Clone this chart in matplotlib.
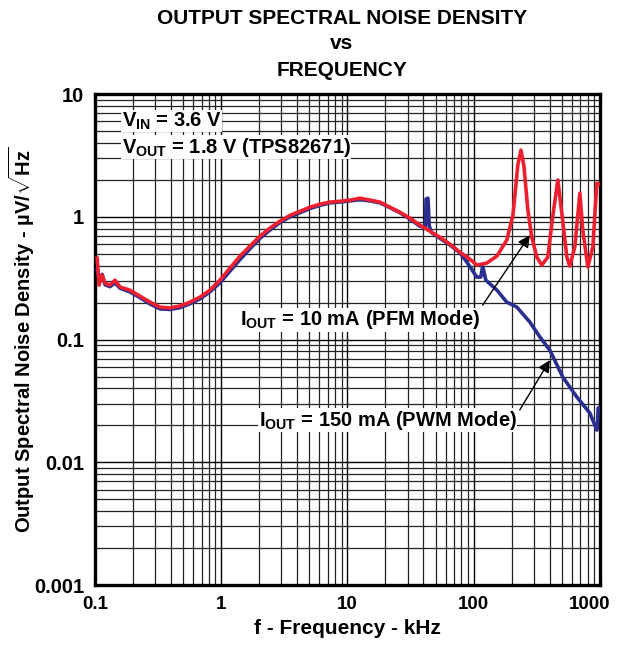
import matplotlib
matplotlib.use("Agg")
import matplotlib.pyplot as plt
from matplotlib.transforms import ScaledTranslation
from matplotlib.ticker import LogLocator, NullFormatter, FixedFormatter, FixedLocator

plt.rcParams['font.family'] = ['Liberation Sans', 'DejaVu Sans']
plt.rcParams['font.weight'] = 'bold'
plt.rcParams['mathtext.fontset'] = 'custom'
plt.rcParams['mathtext.rm'] = 'Liberation Sans:bold'
plt.rcParams['mathtext.bf'] = 'Liberation Sans:bold'
plt.rcParams['mathtext.it'] = 'Liberation Sans:bold'

# ---- data (kHz, uV/sqrt(Hz)) ----
freq_pfm = [0.104, 0.1076, 0.1136, 0.120, 0.1315, 0.144, 0.158, 0.189, 0.227, 0.273,
            0.327, 0.393, 0.471, 0.565, 0.679, 0.814, 0.977, 1.17, 1.41, 1.69,
            2.03, 2.43, 2.92, 3.51, 4.2, 5.05, 6.05, 7.27, 8.7, 10.5,
            12.6, 15.1, 18.1, 21.7, 26.1, 31.3, 37.5, 45, 54, 64.9,
            77.8, 93.3, 106, 127, 153, 183, 205, 224, 237, 250,
            269, 289, 317, 347, 387, 425, 465, 500, 548, 578,
            634, 695, 733, 804, 881, 947, 975, 1000]
noise_pfm = [0.461, 0.278, 0.335, 0.288, 0.278, 0.305, 0.268, 0.253, 0.226, 0.202,
             0.184, 0.181, 0.188, 0.202, 0.222, 0.253, 0.305, 0.382, 0.479, 0.578,
             0.697, 0.81, 0.923, 1.03, 1.11, 1.2, 1.27, 1.32, 1.34, 1.37,
             1.42, 1.37, 1.32, 1.2, 1.09, 0.977, 0.857, 0.765, 0.684, 0.6,
             0.516, 0.453, 0.405, 0.42, 0.479, 0.647, 1.03, 2.64, 3.5, 2.64,
             1.14, 0.684, 0.47, 0.405, 0.47, 1.03, 2.0, 1.07, 0.47, 0.397,
             0.57, 1.56, 0.78, 0.39, 0.57, 1.88, 1.85, 1.85]

freq_pwm = [0.104, 0.108, 0.114, 0.120, 0.1315, 0.144, 0.158, 0.189, 0.227, 0.273,
            0.327, 0.393, 0.471, 0.565, 0.679, 0.814, 0.977, 1.17, 1.41, 1.69,
            2.03, 2.43, 2.92, 3.51, 4.2, 5.05, 6.05, 7.27, 8.7, 10.5,
            12.6, 15.1, 18.1, 21.7, 26.1, 31.3, 37.5, 41.5, 42.0, 43.5,
            44.5, 46, 54, 64.9, 77.8, 88.4, 106, 114, 118, 125,
            153, 183, 220, 279, 335, 402, 509, 658, 834, 947,
            955, 970, 1000]
noise_pwm = [0.37, 0.31, 0.34, 0.28, 0.27, 0.29, 0.262, 0.245, 0.22, 0.195,
             0.178, 0.176, 0.182, 0.196, 0.215, 0.245, 0.29, 0.36, 0.45, 0.55,
             0.67, 0.78, 0.9, 1.0, 1.08, 1.17, 1.24, 1.3, 1.32, 1.35,
             1.38, 1.35, 1.3, 1.19, 1.08, 0.96, 0.84, 0.82, 1.40, 1.42,
             0.85, 0.75, 0.67, 0.59, 0.51, 0.428, 0.323, 0.323, 0.397, 0.305,
             0.253, 0.202, 0.184, 0.139, 0.105, 0.082, 0.0495, 0.034, 0.0252, 0.0183,
             0.0185, 0.0277, 0.0277]

xtick_vals = [0.1, 1, 10, 100, 1000]
xtick_labels = ['0.1', '1', '10', '100', '1000']
ytick_vals = [0.001, 0.01, 0.1, 1, 10]
ytick_labels = ['0.001', '0.01', '0.1', '1', '10']

fig = plt.figure(figsize=(6.19, 6.45), dpi=100)
ax = fig.add_axes([0.1535, 0.093, 0.8155, 0.761])

ax.plot(freq_pwm, noise_pwm, color='#2a2f8f', lw=2.6, zorder=3)
ax.plot(freq_pfm, noise_pfm, color='#ee2030', lw=2.6, zorder=4)

ax.set_xscale('log')
ax.set_yscale('log')
ax.set_xlim(0.1, 1000)
ax.set_ylim(0.001, 10)

ax.xaxis.set_major_locator(FixedLocator(xtick_vals))
ax.xaxis.set_major_formatter(FixedFormatter(xtick_labels))
ax.yaxis.set_major_locator(FixedLocator(ytick_vals))
ax.yaxis.set_major_formatter(FixedFormatter(ytick_labels))
ax.xaxis.set_minor_locator(LogLocator(base=10, subs=range(2, 10)))
ax.yaxis.set_minor_locator(LogLocator(base=10, subs=range(2, 10)))
ax.xaxis.set_minor_formatter(NullFormatter())
ax.yaxis.set_minor_formatter(NullFormatter())
ax.tick_params(which='both', length=0)
ax.tick_params(axis='x', pad=8, labelsize=13.5)
ax.tick_params(axis='y', pad=8, labelsize=14.5)
for lab in ax.get_xticklabels() + ax.get_yticklabels():
    lab.set_fontweight('bold')
# the last x label sits a bit left of its tick in the reference
last = ax.xaxis.get_major_ticks()[-1].label1
last.set_transform(last.get_transform() + ScaledTranslation(-7 / 72, 0, fig.dpi_scale_trans))

ax.grid(True, which='major', color='black', lw=1.0)
ax.grid(True, which='minor', color='#222222', lw=0.9)
ax.set_axisbelow(True)
for sp in ax.spines.values():
    sp.set_linewidth(2.4)

ax.set_xlabel('f - Frequency - kHz', fontsize=15, fontweight='bold', labelpad=4)
ax.set_ylabel(r'Output Spectral Noise Density - µV/$\sqrt{\mathrm{Hz}}$',
              fontsize=14.5, fontweight='bold')
ax.yaxis.label.set_va('center')
ax.yaxis.set_label_coords(-0.145, 0.5)

# title
for txt, y in [('OUTPUT SPECTRAL NOISE DENSITY', 0.972), ('vs', 0.933), ('FREQUENCY', 0.891)]:
    fig.text(0.552, y, txt, ha='center', va='center', fontsize=15, fontweight='bold')

box = dict(facecolor='white', edgecolor='none', pad=0.5)
ax.text(0.053, 0.945, r'V$_{\mathrm{IN}}$ = 3.6 V', transform=ax.transAxes,
        ha='left', va='center', fontsize=14.5, fontweight='bold', bbox=box, zorder=5)
ax.text(0.053, 0.892, r'V$_{\mathrm{OUT}}$ = 1.8 V (TPS82671)', transform=ax.transAxes,
        ha='left', va='center', fontsize=14.5, fontweight='bold', bbox=box, zorder=5)

ax.text(0.525, 0.54, r'I$_{\mathrm{OUT}}$ = 10 mA (PFM Mode)', transform=ax.transAxes,
        ha='center', va='center', fontsize=14.5, fontweight='bold', bbox=box, zorder=5)
ax.text(0.58, 0.336, r'I$_{\mathrm{OUT}}$ = 150 mA (PWM Mode)', transform=ax.transAxes,
        ha='center', va='center', fontsize=14.5, fontweight='bold', bbox=box, zorder=5)

arrow = dict(arrowstyle='-|>', color='black', lw=1.0, mutation_scale=18,
             shrinkA=0, shrinkB=0)
ax.annotate('', xy=(279, 0.71), xytext=(118, 0.191), arrowprops=arrow, zorder=6)
ax.annotate('', xy=(402, 0.068), xytext=(232, 0.0267), arrowprops=arrow, zorder=6)

fig.savefig('out.png', dpi=100)
